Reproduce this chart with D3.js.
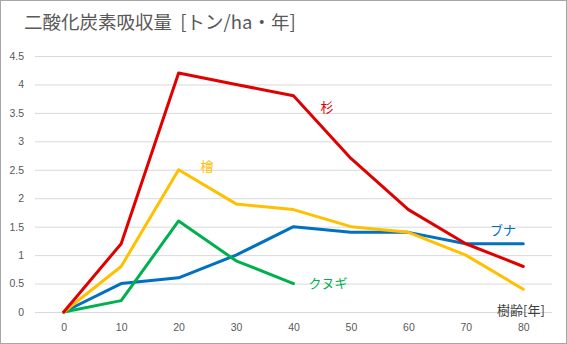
<!DOCTYPE html>
<html>
<head>
<meta charset="utf-8">
<script src="https://cdn.jsdelivr.net/npm/d3@7"></script>
<style>
  html, body { margin: 0; padding: 0; background: #fff; }
  svg { display: block; font-family: "Noto Sans CJK JP", "Noto Sans", sans-serif; }
</style>
</head>
<body>
<svg id="chart" width="567" height="344"></svg>
<script>
// Tree age (years) on the category axis
const ages = [0, 10, 20, 30, 40, 50, 60, 70, 80];
// Annual CO2 uptake per hectare for each species
const sugi = [0, 1.2, 4.2, 4.0, 3.8, 2.7, 1.8, 1.2, 0.8];
const hinoki = [0, 0.8, 2.5, 1.9, 1.8, 1.5, 1.4, 1.0, 0.4];
const buna = [0, 0.5, 0.6, 1.0, 1.5, 1.4, 1.4, 1.2, 1.2];
const kunugi = [0, 0.2, 1.6, 0.9, 0.5];
const yTicks = [0, 0.5, 1, 1.5, 2, 2.5, 3, 3.5, 4, 4.5];

const series = [
  { name: "ブナ", values: buna, color: "#0070c0", labelAt: [503, 231] },
  { name: "クヌギ", values: kunugi, color: "#00b050", labelAt: [328, 284] },
  { name: "檜", values: hinoki, color: "#ffc000", labelAt: [207, 167] },
  { name: "杉", values: sugi, color: "#e00000", labelAt: [327, 108] }
];

const svg = d3.select("#chart");
const W = 567, H = 344;
const plot = { left: 35, right: 552, top: 56, bottom: 312 };

// Outer frame
svg.append("rect")
  .attr("x", 0.5).attr("y", 0.5)
  .attr("width", W - 1).attr("height", H - 1)
  .attr("fill", "#fff").attr("stroke", "#a6a6a6");

// Title
svg.append("text")
  .attr("x", 24).attr("y", 29)
  .attr("fill", "#595959")
  .attr("font-size", 18.5)
  .attr("xml:space", "preserve")
  .style("white-space", "pre")
  .text("二酸化炭素吸収量  [トン/ha・年]");

const x = d3.scalePoint()
  .domain(ages)
  .range([plot.left, plot.right])
  .padding(0.5);

const y = d3.scaleLinear()
  .domain([0, 4.5])
  .range([plot.bottom, plot.top]);

// Horizontal gridlines with value labels
const yAxis = d3.axisLeft(y)
  .tickValues(yTicks)
  .tickSize(-(plot.right - plot.left))
  .tickPadding(11)
  .tickFormat(d3.format("~g"));

const gy = svg.append("g")
  .attr("transform", `translate(${plot.left},0)`)
  .call(yAxis);
gy.select(".domain").remove();
gy.selectAll(".tick line").attr("stroke", "#d9d9d9");
gy.selectAll(".tick text")
  .attr("fill", "#595959")
  .attr("font-size", 10.5);

// Category labels below the plot
const xAxis = d3.axisBottom(x).tickSize(0).tickPadding(12);
const gx = svg.append("g")
  .attr("transform", `translate(0,${plot.bottom})`)
  .call(xAxis);
gx.select(".domain").remove();
gx.selectAll(".tick text")
  .attr("fill", "#595959")
  .attr("font-size", 10.5);

// Species lines
const line = d3.line()
  .x((d, i) => x(ages[i]))
  .y(d => y(d));

svg.append("g")
  .selectAll("path")
  .data(series)
  .join("path")
  .attr("d", s => line(s.values))
  .attr("fill", "none")
  .attr("stroke", s => s.color)
  .attr("stroke-width", 3)
  .attr("stroke-linejoin", "round")
  .attr("stroke-linecap", "round");

// Species labels
svg.append("g")
  .selectAll("text")
  .data(series)
  .join("text")
  .attr("x", s => s.labelAt[0])
  .attr("y", s => s.labelAt[1])
  .attr("text-anchor", "middle")
  .attr("dominant-baseline", "middle")
  .attr("font-size", 13)
  .attr("fill", s => s.color)
  .text(s => s.name);

// Axis name for tree age
svg.append("text")
  .attr("x", 521).attr("y", 311)
  .attr("text-anchor", "middle")
  .attr("dominant-baseline", "middle")
  .attr("font-size", 13)
  .attr("fill", "#404040")
  .text("樹齢[年]");
</script>
</body>
</html>
